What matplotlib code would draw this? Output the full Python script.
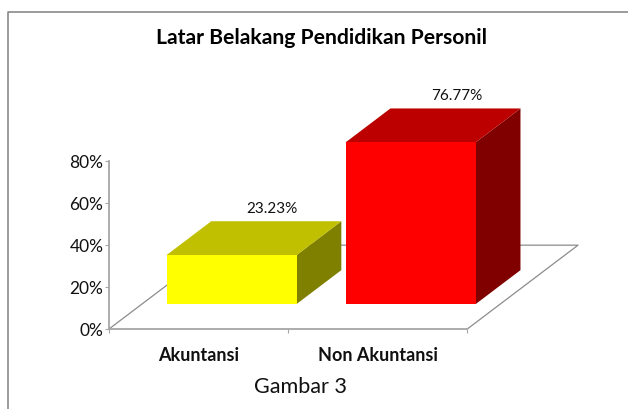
import matplotlib.pyplot as plt
from matplotlib.lines import Line2D
from matplotlib.patches import Polygon

plt.rcParams['font.family'] = ['Lato', 'DejaVu Sans']

# Data
categories = ['Akuntansi', 'Non Akuntansi']
values = [23.23, 76.77]
labels = ['23.23%', '76.77%']
y_ticks = [0, 20, 40, 60, 80]
y_tick_labels = ['0%', '20%', '40%', '60%', '80%']

front_colors = ['#FFFF00', '#FF0000']
top_colors = ['#C0C000', '#BC0000']
side_colors = ['#808000', '#800000']

# 3D look: how far one unit of depth shifts things on the axes
depth_x = 0.618
depth_y = 39.8
bar_width = 0.726
depth_front = 0.298
depth_back = 0.702
label_dx = [-3, 0.7]


def proj(x, y, d):
    return (x + d * depth_x, y + d * depth_y)


fig = plt.figure(figsize=(6.28, 4.10), dpi=100)
ax = fig.add_axes([109 / 628, 80 / 410, 358.3 / 628, 168.5 / 410])
ax.set_xlim(0, 2)
ax.set_ylim(0, 80)
ax.patch.set_alpha(0)

# Floor outline
floor = [proj(0, 0, 0), proj(0, 0, 1), proj(2, 0, 1), proj(2, 0, 0)]
ax.plot([p[0] for p in floor], [p[1] for p in floor], color='#8c8c8c',
        lw=0.9, clip_on=False, zorder=1)

# Bars
for i, v in enumerate(values):
    x0 = i + 0.5 - bar_width / 2
    x1 = i + 0.5 + bar_width / 2
    front = [proj(x0, 0, depth_front), proj(x1, 0, depth_front),
             proj(x1, v, depth_front), proj(x0, v, depth_front)]
    top = [proj(x0, v, depth_front), proj(x1, v, depth_front),
           proj(x1, v, depth_back), proj(x0, v, depth_back)]
    side = [proj(x1, 0, depth_front), proj(x1, 0, depth_back),
            proj(x1, v, depth_back), proj(x1, v, depth_front)]
    ax.add_patch(Polygon(side, closed=True, fc=side_colors[i], ec='none', clip_on=False, zorder=3))
    ax.add_patch(Polygon(top, closed=True, fc=top_colors[i], ec='none', clip_on=False, zorder=3))
    ax.add_patch(Polygon(front, closed=True, fc=front_colors[i], ec='none', clip_on=False, zorder=4))
    lx, ly = proj(i + 0.5, v, depth_back)
    ax.annotate(labels[i], (lx, ly), xytext=(label_dx[i], 4.5), textcoords='offset points',
                ha='center', va='bottom', fontsize=11, color='#111111',
                annotation_clip=False)

# Axes
for s in ['top', 'right']:
    ax.spines[s].set_visible(False)
for s in ['left', 'bottom']:
    ax.spines[s].set_color('#a6a6a6')
    ax.spines[s].set_linewidth(1.3)
ax.set_yticks(y_ticks)
ax.set_yticklabels(y_tick_labels, fontsize=12.5, color='#111111')
ax.tick_params(axis='y', length=3, width=0.8, color='#a6a6a6', pad=1)
ax.set_xticks([0, 1, 2])
ax.set_xticklabels([])
ax.tick_params(axis='x', length=3, width=0.8, color='#a6a6a6')
for i, c in enumerate(categories):
    ax.annotate(c, (i + 0.5, 0), xytext=(0, -12), textcoords='offset points',
                ha='center', va='top', fontsize=13, fontweight='bold',
                color='#111111', annotation_clip=False)

# Outer frame, only left and top are visible in the picture
fig.add_artist(Line2D([7.5 / 628, 7.5 / 628, 1], [0, 397.5 / 410, 397.5 / 410],
                      color='#808080', lw=1.1))

fig.text(322 / 628, 1 - 38.5 / 410, 'Latar Belakang Pendidikan Personil', ha='center',
         va='center', fontsize=15.2, fontweight='bold', color='#000000')
fig.text(300 / 628, 1 - 387 / 410, 'Gambar 3', ha='center', va='center',
         fontsize=15.6, color='#111111')

fig.savefig('out.png', dpi=100)
